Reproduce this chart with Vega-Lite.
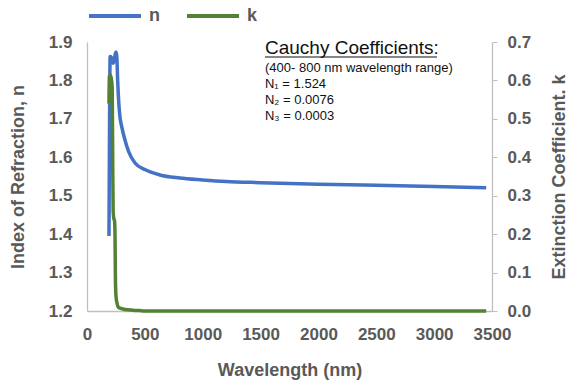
{
  "$schema": "https://vega.github.io/schema/vega-lite/v6.json",
  "width": 405,
  "height": 269,
  "autosize": {"type": "none"},
  "padding": {"left": 87, "top": 42, "right": 76, "bottom": 72},
  "config": {
    "font": "Liberation Sans",
    "view": {"stroke": null},
    "axis": {
      "grid": false,
      "domainColor": "#bfbfbf",
      "domainWidth": 1.3,
      "tickColor": "#bfbfbf",
      "labelColor": "#595959",
      "labelFont": "Liberation Sans",
      "labelFontWeight": "bold",
      "labelFontSize": 17,
      "labelOverlap": false,
      "labelFlush": false,
      "titleColor": "#595959",
      "titleFont": "Liberation Sans",
      "titleFontWeight": "bold",
      "titleFontSize": 18
    }
  },
  "datasets": {
    "curves": [
      {"wl": 190, "series": "n", "value": 1.395},
      {"wl": 195, "series": "n", "value": 1.70},
      {"wl": 200, "series": "n", "value": 1.862},
      {"wl": 210, "series": "n", "value": 1.86},
      {"wl": 220, "series": "n", "value": 1.848},
      {"wl": 227, "series": "n", "value": 1.845},
      {"wl": 237, "series": "n", "value": 1.856},
      {"wl": 245, "series": "n", "value": 1.870},
      {"wl": 252, "series": "n", "value": 1.874},
      {"wl": 258, "series": "n", "value": 1.86},
      {"wl": 265, "series": "n", "value": 1.80},
      {"wl": 275, "series": "n", "value": 1.74},
      {"wl": 285, "series": "n", "value": 1.705},
      {"wl": 300, "series": "n", "value": 1.68},
      {"wl": 328, "series": "n", "value": 1.645},
      {"wl": 360, "series": "n", "value": 1.615},
      {"wl": 415, "series": "n", "value": 1.585},
      {"wl": 500, "series": "n", "value": 1.568},
      {"wl": 630, "series": "n", "value": 1.554},
      {"wl": 800, "series": "n", "value": 1.546},
      {"wl": 1000, "series": "n", "value": 1.541},
      {"wl": 1200, "series": "n", "value": 1.537},
      {"wl": 1500, "series": "n", "value": 1.534},
      {"wl": 2000, "series": "n", "value": 1.530},
      {"wl": 2500, "series": "n", "value": 1.527},
      {"wl": 3000, "series": "n", "value": 1.524},
      {"wl": 3450, "series": "n", "value": 1.521},
      {"wl": 190, "series": "k", "value": 0.54},
      {"wl": 193, "series": "k", "value": 0.61},
      {"wl": 200, "series": "k", "value": 0.614},
      {"wl": 210, "series": "k", "value": 0.605},
      {"wl": 218, "series": "k", "value": 0.58},
      {"wl": 222, "series": "k", "value": 0.40},
      {"wl": 226, "series": "k", "value": 0.26},
      {"wl": 232, "series": "k", "value": 0.24},
      {"wl": 238, "series": "k", "value": 0.235},
      {"wl": 242, "series": "k", "value": 0.20},
      {"wl": 245, "series": "k", "value": 0.10},
      {"wl": 250, "series": "k", "value": 0.04},
      {"wl": 260, "series": "k", "value": 0.02},
      {"wl": 270, "series": "k", "value": 0.01},
      {"wl": 300, "series": "k", "value": 0.006},
      {"wl": 350, "series": "k", "value": 0.003},
      {"wl": 450, "series": "k", "value": 0.001},
      {"wl": 500, "series": "k", "value": 0.0},
      {"wl": 1000, "series": "k", "value": 0.0},
      {"wl": 2000, "series": "k", "value": 0.0},
      {"wl": 3000, "series": "k", "value": 0.0},
      {"wl": 3450, "series": "k", "value": 0.0}
    ],
    "heading": [
      {"wl": 1538, "n": 1.884, "label": "Cauchy Coefficients:"}
    ],
    "notes": [
      {"wl": 1538, "n": 1.832, "label": "(400- 800 nm wavelength range)"},
      {"wl": 1538, "n": 1.791, "label": "N₁ = 1.524"},
      {"wl": 1538, "n": 1.749, "label": "N₂ = 0.0076"},
      {"wl": 1538, "n": 1.707, "label": "N₃ = 0.0003"}
    ],
    "underline": [
      {"wl": 1538, "wl2": 3025, "n": 1.861}
    ]
  },
  "layer": [
    {
      "layer": [
        {
          "data": {"name": "curves"},
          "transform": [{"filter": "datum.series === 'n'"}],
          "mark": {"type": "line", "strokeWidth": 3.5, "interpolate": "monotone"},
          "encoding": {
            "x": {"field": "wl", "type": "quantitative",
                  "scale": {"domain": [0, 3500], "nice": false, "zero": false},
                  "axis": {"values": [0, 500, 1000, 1500, 2000, 2500, 3000, 3500], "format": "d", "ticks": false, "labelOverlap": false, "labelPadding": 15, "title": "Wavelength (nm)", "titlePadding": 19}},
            "y": {"field": "value", "type": "quantitative",
                  "scale": {"domain": [1.2, 1.9], "nice": false, "zero": false},
                  "axis": {"orient": "left", "values": [1.2, 1.3, 1.4, 1.5, 1.6, 1.7, 1.8, 1.9], "format": ".1f", "ticks": false, "labelOverlap": false, "labelPadding": 15, "title": "Index of Refraction, n", "titlePadding": 21}},
            "color": {"field": "series", "type": "nominal",
                      "scale": {"domain": ["n", "k"], "range": ["#4472C4", "#548235"]},
                      "legend": {"orient": "none", "legendX": 0, "legendY": -54, "direction": "horizontal", "title": null,
                                 "symbolType": "stroke", "symbolSize": 2704, "symbolStrokeWidth": 4,
                                 "labelFontSize": 18, "labelFontWeight": "bold", "labelColor": "#595959", "labelFont": "Liberation Sans",
                                 "labelOffset": 6, "columnPadding": 19}}
          }
        },
        {
          "data": {"name": "heading"},
          "mark": {"type": "text", "align": "left", "baseline": "middle", "fontSize": 19, "color": "#111111"},
          "encoding": {
            "x": {"field": "wl", "type": "quantitative"},
            "y": {"field": "n", "type": "quantitative",
                  "axis": {"orient": "left", "values": [1.2, 1.3, 1.4, 1.5, 1.6, 1.7, 1.8, 1.9], "format": ".1f", "ticks": false, "labelOverlap": false, "labelPadding": 15, "title": "Index of Refraction, n", "titlePadding": 21}},
            "text": {"field": "label"}
          }
        },
        {
          "data": {"name": "notes"},
          "mark": {"type": "text", "align": "left", "baseline": "middle", "fontSize": 13, "color": "#111111"},
          "encoding": {
            "x": {"field": "wl", "type": "quantitative"},
            "y": {"field": "n", "type": "quantitative",
                  "axis": {"orient": "left", "values": [1.2, 1.3, 1.4, 1.5, 1.6, 1.7, 1.8, 1.9], "format": ".1f", "ticks": false, "labelOverlap": false, "labelPadding": 15, "title": "Index of Refraction, n", "titlePadding": 21}},
            "text": {"field": "label"}
          }
        },
        {
          "data": {"name": "underline"},
          "mark": {"type": "rule", "color": "#111111", "strokeWidth": 1.2},
          "encoding": {
            "x": {"field": "wl", "type": "quantitative"},
            "x2": {"field": "wl2"},
            "y": {"field": "n", "type": "quantitative",
                  "axis": {"orient": "left", "values": [1.2, 1.3, 1.4, 1.5, 1.6, 1.7, 1.8, 1.9], "format": ".1f", "ticks": false, "labelOverlap": false, "labelPadding": 15, "title": "Index of Refraction, n", "titlePadding": 21}}
          }
        }
      ]
    },
    {
      "data": {"name": "curves"},
      "transform": [{"filter": "datum.series === 'k'"}],
      "mark": {"type": "line", "strokeWidth": 3.5, "interpolate": "monotone"},
      "encoding": {
        "x": {"field": "wl", "type": "quantitative"},
        "y": {"field": "value", "type": "quantitative",
              "scale": {"domain": [0, 0.7], "nice": false},
              "axis": {"orient": "right", "values": [0, 0.1, 0.2, 0.3, 0.4, 0.5, 0.6, 0.7], "format": ".1f", "ticks": true, "tickSize": 5, "labelOverlap": false, "labelPadding": 10, "title": "Extinction  Coefficient.  k", "titleAngle": 270, "titlePadding": 38}},
        "color": {"field": "series", "type": "nominal"}
      }
    }
  ],
  "resolve": {"scale": {"y": "independent"}}
}
